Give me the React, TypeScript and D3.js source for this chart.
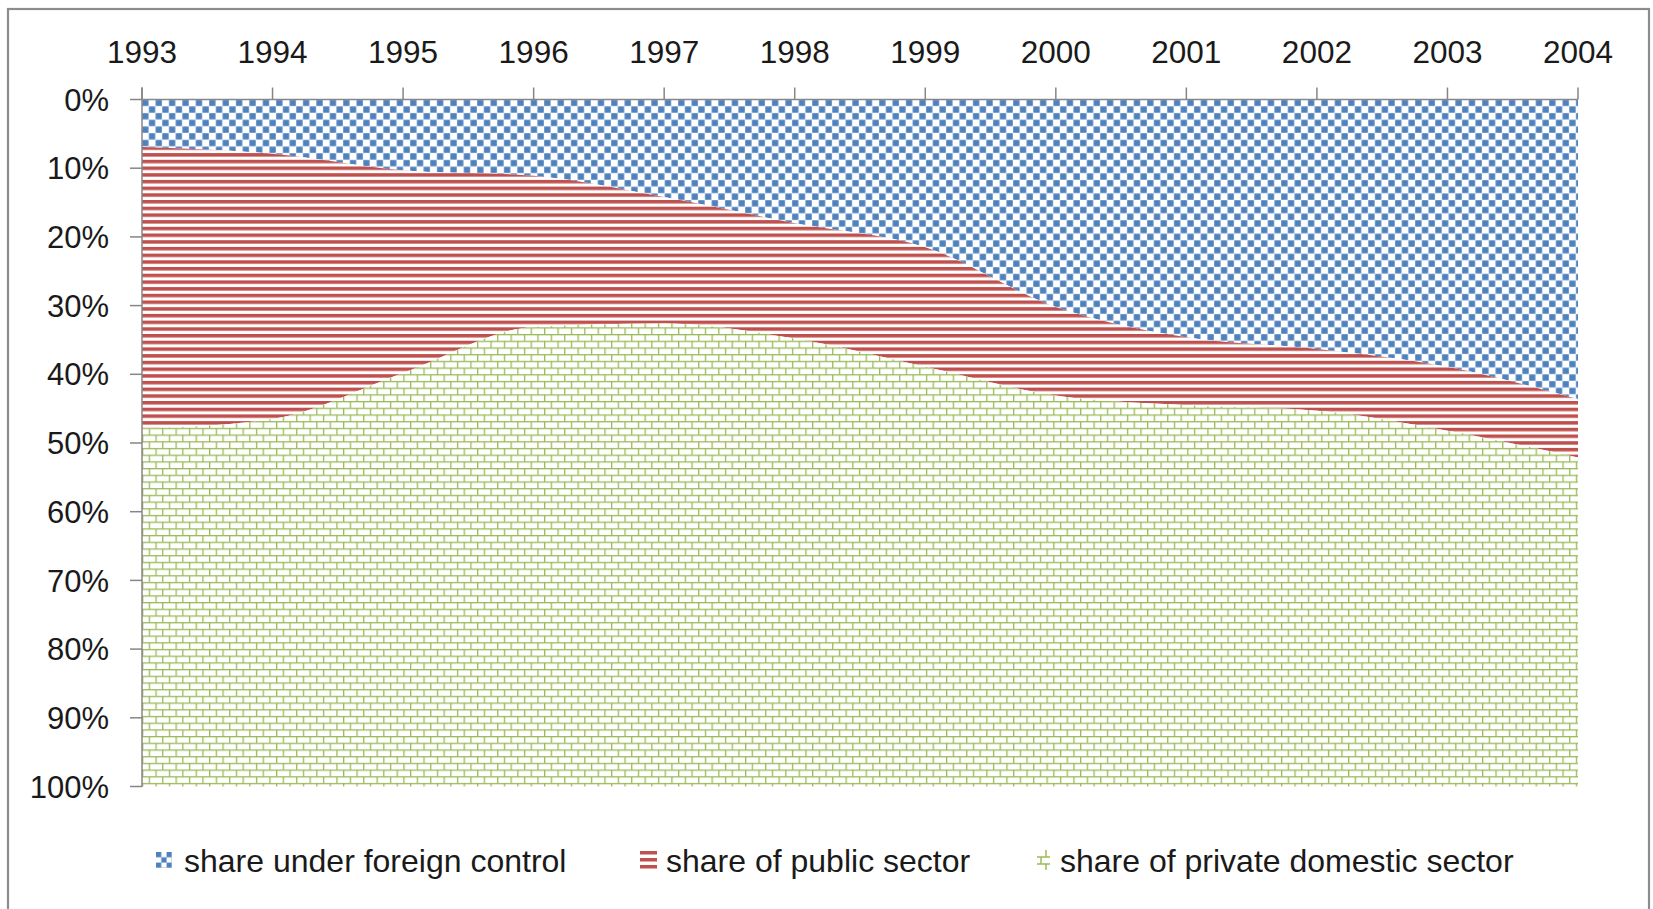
import * as d3 from 'd3'

const YEARS = ['1993', '1994', '1995', '1996', '1997', '1998', '1999', '2000', '2001', '2002', '2003', '2004']

// shares in % (top to bottom of the stack)
const FOREIGN = [6.9, 7.9, 10.3, 11.1, 14.2, 18.0, 21.5, 30.2, 34.6, 36.3, 38.9, 43.6]
const PUBLIC = [41.0, 38.6, 29.5, 22.0, 18.4, 16.8, 17.4, 12.9, 9.9, 9.0, 9.3, 8.5]
const PRIVATE = [52.1, 53.5, 60.2, 66.9, 67.4, 65.2, 61.1, 56.9, 55.5, 54.7, 51.8, 47.9]

const SERIES_KEYS = ['foreign', 'public', 'private']
const SERIES_LABELS = ['share under foreign control', 'share of public sector', 'share of private domestic sector']
const Y_TICKS = [0, 10, 20, 30, 40, 50, 60, 70, 80, 90, 100]

const W = 1653
const H = 909
const PLOT = { left: 142, right: 1578, top: 99.5, bottom: 786.5 }

const BLUE = '#4f81bd'
const RED = '#c0504d'
const GREEN = '#9bbb59'
const AXIS = '#868686'
const FONT = '"Liberation Sans", Arial, sans-serif'

const P = 13.4 // pattern period

export default function App() {
  const rows = YEARS.map((y, i) => ({
    year: y,
    foreign: FOREIGN[i],
    public: PUBLIC[i],
    private: PRIVATE[i]
  }))

  const x = d3.scalePoint().domain(YEARS).range([PLOT.left, PLOT.right])
  const y = d3.scaleLinear().domain([0, 100]).range([PLOT.top, PLOT.bottom])

  const stacked = d3.stack().keys(SERIES_KEYS)(rows as any)

  const area = d3.area<any>()
    .x(d => x(d.data.year) as number)
    .y0(d => y(d[0]))
    .y1(d => y(d[1]))
    .curve(d3.curveMonotoneX)

  const fills = ['url(#pat-check)', 'url(#pat-stripe)', 'url(#pat-brick)']

  // legend layout
  const legendItems = [
    { icon: 156, text: 184 },
    { icon: 640, text: 666 },
    { icon: 1037, text: 1060 }
  ]
  const legendY = 872

  return (
    <svg
      width={W}
      height={H}
      style={{ position: 'absolute', left: 0, top: 0, background: 'white' }}
      fontFamily={FONT}
    >
      <defs>
        <pattern id="pat-check" patternUnits="userSpaceOnUse" x={PLOT.left} y={PLOT.top} width={P} height={P}>
          <rect width={P} height={P} fill="white" />
          <rect x={0.2} y={0.2} width={P / 2 - 0.4} height={P / 2 - 0.4} fill={BLUE} />
          <rect x={P / 2 + 0.2} y={P / 2 + 0.2} width={P / 2 - 0.4} height={P / 2 - 0.4} fill={BLUE} />
        </pattern>
        <pattern id="pat-stripe" patternUnits="userSpaceOnUse" x={0} y={PLOT.top} width={P} height={P / 2}>
          <rect width={P} height={P / 2} fill="white" />
          <rect y={0} width={P} height={3.5} fill={RED} />
        </pattern>
        <pattern id="pat-brick" patternUnits="userSpaceOnUse" x={PLOT.left} y={PLOT.top} width={P} height={P}>
          <rect width={P} height={P} fill="white" />
          <rect y={0} width={P} height={1.3} fill={GREEN} />
          <rect y={P / 2} width={P} height={1.3} fill={GREEN} />
          <rect x={0} y={0} width={1.3} height={P / 2} fill={GREEN} />
          <rect x={P / 2} y={P / 2} width={1.3} height={P / 2} fill={GREEN} />
        </pattern>
        <pattern id="leg-check" patternUnits="userSpaceOnUse" x={legendItems[0].icon} y={852} width={10.6} height={10.6}>
          <rect width={10.6} height={10.6} fill="white" />
          <rect width={5.3} height={5.3} fill={BLUE} />
          <rect x={5.3} y={5.3} width={5.3} height={5.3} fill={BLUE} />
        </pattern>
      </defs>

      {/* chart frame */}
      <rect x={8} y={9} width={1641} height={915} fill="white" stroke="#8c8c8c" strokeWidth={2.2} />

      {/* stacked areas */}
      {stacked.map((s, i) => (
        <path key={SERIES_KEYS[i]} d={area(s as any) || ''} fill={fills[i]} />
      ))}

      {/* top axis */}
      <line x1={PLOT.left} x2={PLOT.right} y1={PLOT.top} y2={PLOT.top} stroke={AXIS} strokeWidth={1.5} />
      {YEARS.map(yr => (
        <g key={yr}>
          <line x1={x(yr)} x2={x(yr)} y1={PLOT.top} y2={PLOT.top - 12} stroke={AXIS} strokeWidth={1.5} />
          <text x={x(yr)} y={63} textAnchor="middle" fontSize={31.5} fill="#1a1a1a">{yr}</text>
        </g>
      ))}

      {/* left axis */}
      <line x1={PLOT.left} x2={PLOT.left} y1={PLOT.top - 12} y2={PLOT.bottom} stroke={AXIS} strokeWidth={1.5} />
      {Y_TICKS.map(t => (
        <g key={t}>
          <line x1={PLOT.left - 12} x2={PLOT.left} y1={y(t)} y2={y(t)} stroke={AXIS} strokeWidth={1.5} />
          <text x={109} y={y(t)} dy="0.36em" textAnchor="end" fontSize={31} fill="#1a1a1a">{t}%</text>
        </g>
      ))}

      {/* legend */}
      <g>
        <rect x={legendItems[0].icon} y={852} width={16} height={16} fill="url(#leg-check)" />
        <g>
          <rect x={legendItems[1].icon} y={851} width={17} height={3.5} fill={RED} />
          <rect x={legendItems[1].icon} y={858} width={17} height={3.5} fill={RED} />
          <rect x={legendItems[1].icon} y={865} width={17} height={3.5} fill={RED} />
        </g>
        <g stroke={GREEN} strokeWidth={1.5}>
          <line x1={legendItems[2].icon} x2={legendItems[2].icon + 13} y1={857} y2={857} />
          <line x1={legendItems[2].icon} x2={legendItems[2].icon + 13} y1={864} y2={864} />
          <line x1={legendItems[2].icon + 4} x2={legendItems[2].icon + 4} y1={857} y2={864} />
          <line x1={legendItems[2].icon + 9} x2={legendItems[2].icon + 9} y1={850} y2={857} />
          <line x1={legendItems[2].icon + 9} x2={legendItems[2].icon + 9} y1={864} y2={870} />
        </g>
        {SERIES_LABELS.map((lab, i) => (
          <text key={lab} x={legendItems[i].text} y={legendY} fontSize={32} fill="#1a1a1a">{lab}</text>
        ))}
      </g>
    </svg>
  )
}
